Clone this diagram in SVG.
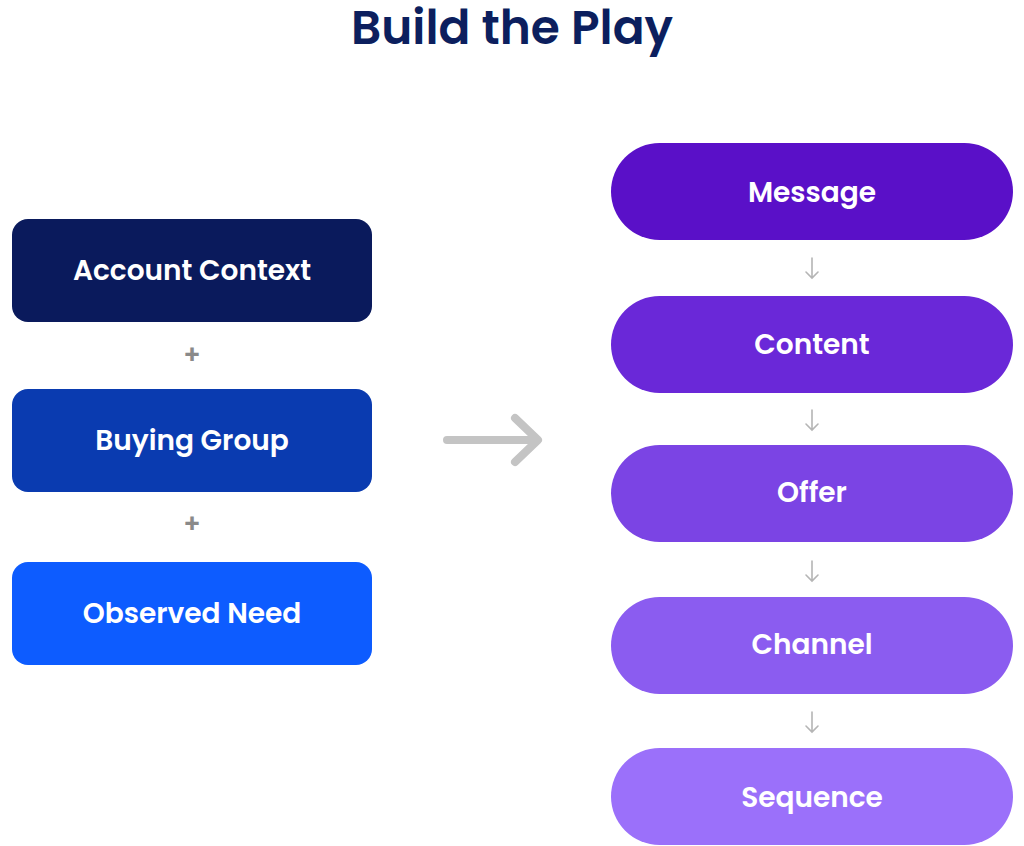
<svg xmlns="http://www.w3.org/2000/svg" width="1024" height="846" viewBox="0 0 1024 846">
<style>
.t{font-family:Poppins,"Noto Sans",Inter,sans-serif;font-weight:600;fill:#fff;font-size:28px;text-anchor:middle;dominant-baseline:central}
.plus{font-family:Poppins,"Noto Sans",sans-serif;font-weight:600;font-size:26px;fill:#8a8a8a;text-anchor:middle;dominant-baseline:central}
.sa{stroke:#b5b5b5;stroke-width:1.6;fill:none;stroke-linecap:round}
</style>
<rect width="1024" height="846" fill="#fff"/>
<text x="512" y="44" font-family="Poppins,'Noto Sans',Inter,sans-serif" font-weight="600" font-size="47" fill="#0c1f5e" text-anchor="middle">Build the Play</text>
<g id="account"><rect x="12" y="219" width="360" height="103" rx="16" fill="#0a1a5c"/><text class="t" x="192" y="270">Account Context</text></g>
<g id="buying"><rect x="12" y="389" width="360" height="103" rx="16" fill="#0a3bb0"/><text class="t" x="192" y="440">Buying Group</text></g>
<g id="observed"><rect x="12" y="562" width="360" height="103" rx="16" fill="#0d5cff"/><text class="t" x="192" y="613">Observed Need</text></g>
<g id="message"><rect x="611" y="143" width="402" height="97" rx="48.5" fill="#5a10c8"/><text class="t" x="812" y="192">Message</text></g>
<g id="content"><rect x="611" y="296" width="402" height="97" rx="48.5" fill="#6a28d8"/><text class="t" x="812" y="344">Content</text></g>
<g id="offer"><rect x="611" y="445" width="402" height="97" rx="48.5" fill="#7b44e4"/><text class="t" x="812" y="492">Offer</text></g>
<g id="channel"><rect x="611" y="597" width="402" height="97" rx="48.5" fill="#8b5cf0"/><text class="t" x="812" y="644">Channel</text></g>
<g id="sequence"><rect x="611" y="748" width="402" height="97" rx="48.5" fill="#9b70fa"/><text class="t" x="812" y="797">Sequence</text></g>
<g id="connectors">
<text class="plus" x="192" y="355">+</text>
<text class="plus" x="192" y="524">+</text>
<path d="M447 440H536M515 418L538 440L515 462" stroke="#c4c4c4" stroke-width="8" fill="none" stroke-linecap="round" stroke-linejoin="round"/>
<path class="sa" d="M812 258V278M806 272L812 278L818 272"/>
<path class="sa" d="M812 410V430M806 424L812 430L818 424"/>
<path class="sa" d="M812 561V581M806 575L812 581L818 575"/>
<path class="sa" d="M812 712V732M806 726L812 732L818 726"/>
</g>
</svg>
